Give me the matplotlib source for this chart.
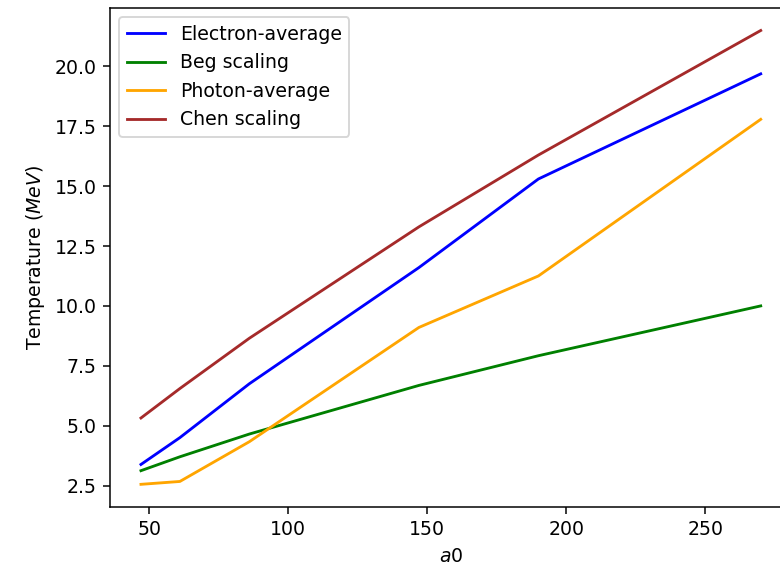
import matplotlib
matplotlib.use("Agg")
import matplotlib.pyplot as plt

a0 = [47, 61, 86, 147, 190, 270]
electron_avg = [3.38, 4.5, 6.75, 11.6, 15.3, 19.69]
beg_scaling = [3.12, 3.70, 4.65, 6.68, 7.92, 10.0]
photon_avg = [2.55, 2.67, 4.33, 9.1, 11.25, 17.79]
chen_scaling = [5.32, 6.55, 8.65, 13.3, 16.3, 21.5]

DPI = 136
fig = plt.figure(figsize=(780 / DPI, 566 / DPI), dpi=DPI)
ax = fig.add_axes([0.1410, 0.1042, 0.874, 0.882])
ax.plot(a0, electron_avg, color="blue", label="Electron-average")
ax.plot(a0, beg_scaling, color="green", label="Beg scaling")
ax.plot(a0, photon_avg, color="orange", label="Photon-average")
ax.plot(a0, chen_scaling, color="brown", label="Chen scaling")
ax.set_xlabel("$a0$")
ax.set_ylabel("Temperature ($MeV$)")
ax.legend(loc="upper left")
fig.savefig("out.png", dpi=DPI)
